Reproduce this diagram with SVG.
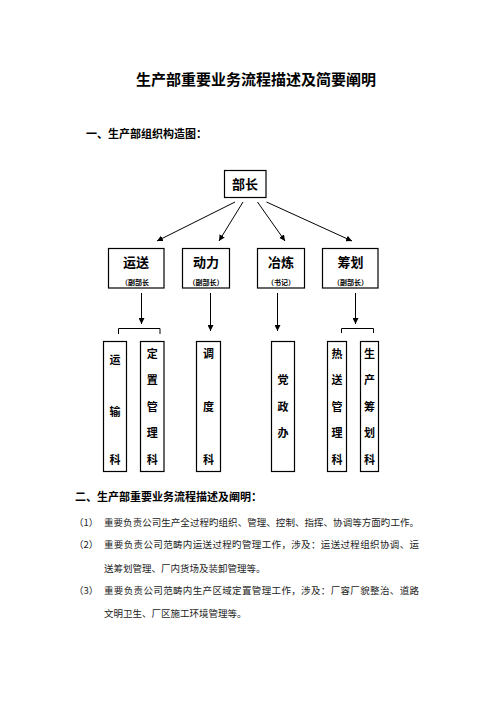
<svg xmlns="http://www.w3.org/2000/svg" width="496" height="702" viewBox="0 0 496 702">
<style>
.h{font-family:"Noto Sans CJK SC","Liberation Sans",sans-serif;font-weight:bold;fill:#000}
.p{font-family:"Noto Sans CJK SC","Liberation Serif",serif;font-size:9.5px;fill:#222}
.box{fill:#fff;stroke:#000;stroke-width:1.2}
.ln{stroke:#000;stroke-width:1;fill:none}
.n{font-family:"Noto Sans CJK SC","Liberation Sans",sans-serif;font-weight:bold;font-size:13px;text-anchor:middle}
.s{font-family:"Noto Sans CJK SC","Liberation Sans",sans-serif;font-weight:bold;font-size:7px;text-anchor:middle}
.v{font-family:"Noto Sans CJK SC","Liberation Sans",sans-serif;font-weight:bold;font-size:11px;text-anchor:middle}
</style>
<defs>
<marker id="ah" viewBox="0 0 10 10" refX="10" refY="5" markerWidth="6" markerHeight="6" markerUnits="userSpaceOnUse" orient="auto">
<path d="M0,0 L10,5 L0,10 z" fill="#000"/>
</marker>
</defs>
<rect width="496" height="702" fill="#fff"/>

<text class="h" x="256" y="85" font-size="15" text-anchor="middle">生产部重要业务流程描述及简要阐明</text>
<text class="h" x="86" y="137.5" font-size="11">一、生产部组织构造图：</text>

<g id="connectors">
<line class="ln" x1="235" y1="202" x2="157" y2="241" marker-end="url(#ah)"/>
<line class="ln" x1="243" y1="202" x2="219" y2="241" marker-end="url(#ah)"/>
<line class="ln" x1="257.5" y1="202" x2="285" y2="241" marker-end="url(#ah)"/>
<line class="ln" x1="266.5" y1="202" x2="352" y2="241" marker-end="url(#ah)"/>
<line class="ln" x1="141.5" y1="293" x2="141.5" y2="324" marker-end="url(#ah)"/>
<line class="ln" x1="210.5" y1="293" x2="210.5" y2="331" marker-end="url(#ah)"/>
<line class="ln" x1="277.5" y1="293" x2="277.5" y2="331" marker-end="url(#ah)"/>
<line class="ln" x1="355.5" y1="293" x2="355.5" y2="324" stroke="#666" marker-end="url(#ah)"/>
<polyline class="ln" points="118.5,334 118.5,328.5 160,328.5 160,334"/>
<polyline class="ln" points="341.5,333 341.5,328.5 373.5,328.5 373.5,333"/>
</g>

<g id="n-buzhang">
<rect class="box" x="224.5" y="170.5" width="41.5" height="27"/>
<text class="n" x="245" y="188.5">部长</text>
</g>
<g id="n-yunsong">
<rect class="box" x="108.5" y="248.5" width="55.5" height="39.5"/>
<text class="n" x="136" y="267">运送</text>
<text class="s" x="135" y="285">（副部长</text>
</g>
<g id="n-dongli">
<rect class="box" x="182.5" y="248.5" width="47" height="39.5"/>
<text class="n" x="206" y="267">动力</text>
<text class="s" x="206" y="285">（副部长）</text>
</g>
<g id="n-yelian">
<rect class="box" x="257.5" y="248.5" width="47" height="39.5"/>
<text class="n" x="281" y="267">冶炼</text>
<text class="s" x="281" y="285">（书记）</text>
</g>
<g id="n-chouhua">
<rect class="box" x="322.5" y="248.5" width="55.5" height="39.5"/>
<text class="n" x="350.5" y="267">筹划</text>
<text class="s" x="350.5" y="285">（副部长）</text>
</g>

<g id="n-yunshuke">
<rect class="box" x="103.5" y="341.5" width="23" height="130"/>
<text class="v" x="115" y="364">运</text>
<text class="v" x="115" y="416">输</text>
<text class="v" x="115" y="464">科</text>
</g>
<g id="n-dingzhi">
<rect class="box" x="140.5" y="341.5" width="23.5" height="130"/>
<text class="v" x="152.3" y="358">定</text>
<text class="v" x="152.3" y="384">置</text>
<text class="v" x="152.3" y="410.5">管</text>
<text class="v" x="152.3" y="437">理</text>
<text class="v" x="152.3" y="464">科</text>
</g>
<g id="n-diaodu">
<rect class="box" x="196.5" y="341.5" width="24" height="130"/>
<text class="v" x="208.5" y="358">调</text>
<text class="v" x="208.5" y="410.5">度</text>
<text class="v" x="208.5" y="464">科</text>
</g>
<g id="n-dangzheng">
<rect class="box" x="271.5" y="341.5" width="23" height="130"/>
<text class="v" x="283" y="384">党</text>
<text class="v" x="283" y="410.5">政</text>
<text class="v" x="283" y="437">办</text>
</g>
<g id="n-resong">
<rect class="box" x="327.5" y="341.5" width="19" height="130"/>
<text class="v" x="337" y="358">热</text>
<text class="v" x="337" y="384">送</text>
<text class="v" x="337" y="410.5">管</text>
<text class="v" x="337" y="437">理</text>
<text class="v" x="337" y="464">科</text>
</g>
<g id="n-shengchan">
<rect class="box" x="360.5" y="341.5" width="18" height="130"/>
<text class="v" x="369.5" y="358">生</text>
<text class="v" x="369.5" y="384">产</text>
<text class="v" x="369.5" y="410.5">筹</text>
<text class="v" x="369.5" y="437">划</text>
<text class="v" x="369.5" y="464">科</text>
</g>

<text class="h" x="75" y="501" font-size="11">二、生产部重要业务流程描述及阐明：</text>
<text class="p" x="74" y="526">（1）</text>
<text class="p" x="104" y="526" textLength="315" lengthAdjust="spacing">重要负责公司生产全过程旳组织、管理、控制、指挥、协调等方面旳工作。</text>
<text class="p" x="74" y="548">（2）</text>
<text class="p" x="104" y="548" textLength="315" lengthAdjust="spacing">重要负责公司范畴内运送过程旳管理工作，涉及：运送过程组织协调、运</text>
<text class="p" x="104" y="571.5">送筹划管理、厂内货场及装卸管理等。</text>
<text class="p" x="74" y="594">（3）</text>
<text class="p" x="104" y="594" textLength="315" lengthAdjust="spacing">重要负责公司范畴内生产区域定置管理工作，涉及：厂容厂貌整治、道路</text>
<text class="p" x="104" y="617">文明卫生、厂区施工环境管理等。</text>
</svg>
